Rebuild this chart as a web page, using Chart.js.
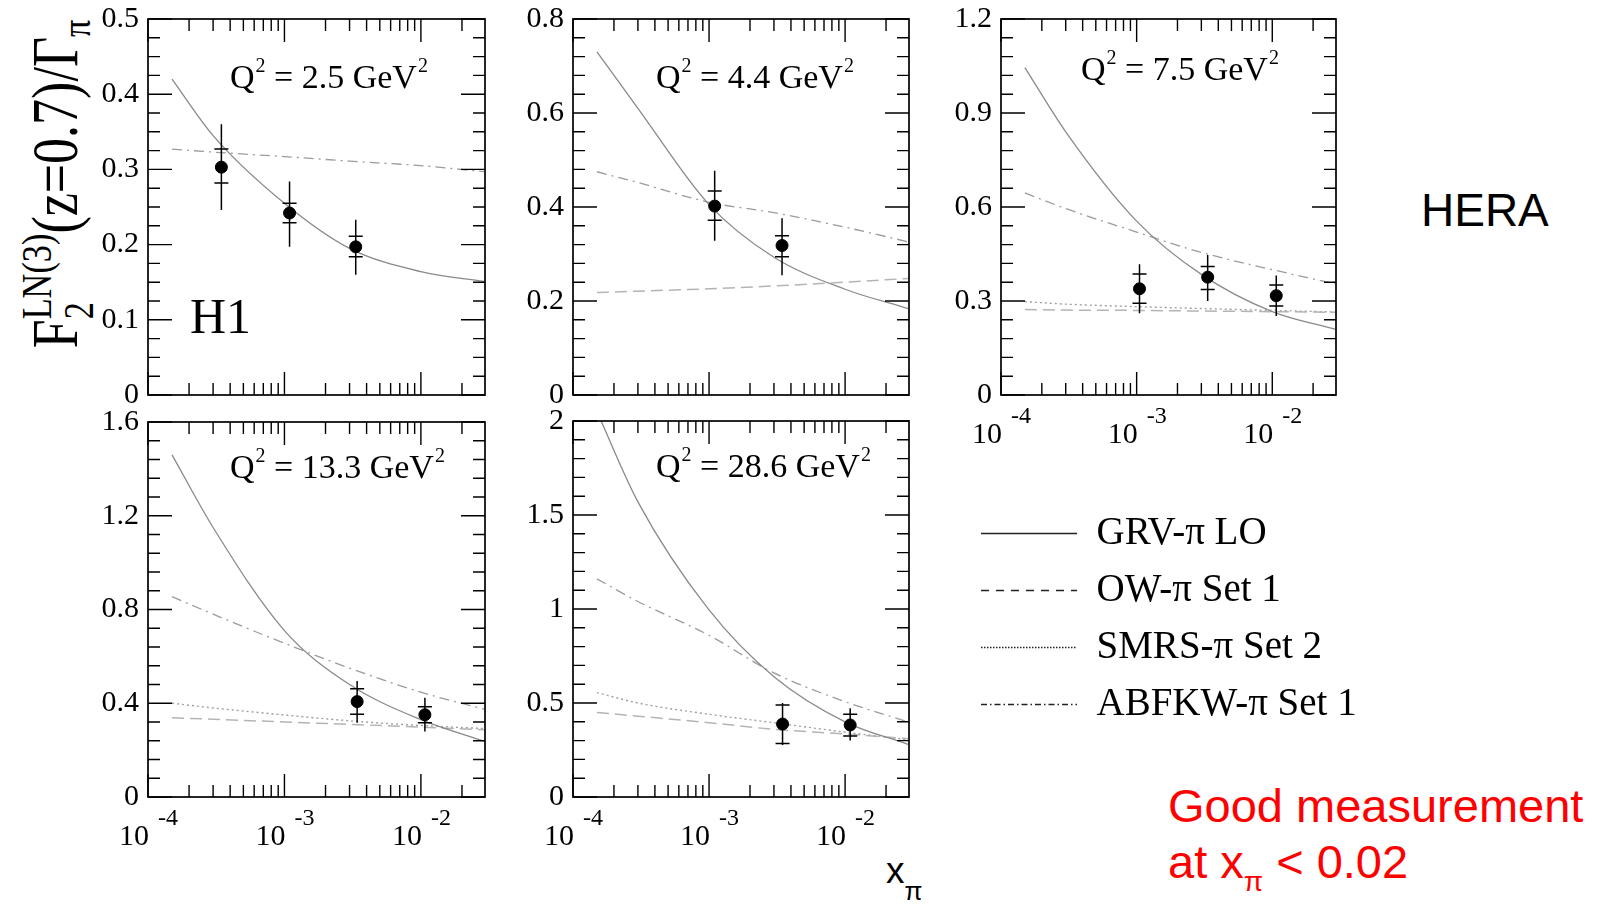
<!DOCTYPE html>
<html>
<head>
<meta charset="utf-8">
<script src="https://cdn.jsdelivr.net/npm/chart.js@4/dist/chart.umd.min.js"></script>
<style>
  body { margin: 0; background: #fff; width: 1608px; height: 904px; overflow: hidden; position: relative; }
  canvas { position: absolute; }
  .t { position: absolute; white-space: nowrap; color: #000; }
  #ytitle { left: 57px; top: 184px; font: 52px 'Liberation Serif'; line-height: 1;
            transform: translate(-50%, -50%) rotate(-90deg) scaleY(1.25); }
  #ytitle .ss { display: inline-block; font-size: 0.66em; line-height: 0.95; vertical-align: -0.35em; text-align: left; }
  #ytitle .pi { font-size: 0.66em; vertical-align: -0.3em; }
</style>
</head>
<body>

<div class="t" id="ytitle">F<span class="ss">LN(3)<br>2</span>(z=0.7)/Γ<span class="pi">π</span></div>
<div class="t" style="left:1421px;top:187px;font:46px 'Liberation Sans';line-height:46px">HERA</div>
<div class="t" style="left:886px;top:852px;font:37px 'Liberation Sans';line-height:37px">x<span style="font-size:26px;vertical-align:-17px;line-height:0">π</span></div>
<div class="t" style="left:1168px;top:778px;font:47px 'Liberation Sans';line-height:56px;color:#f00">Good measurement<br>at x<span style="font-size:28px;vertical-align:-13px;line-height:0">π</span> &lt; 0.02</div>

<script>
var curveX = [1.5e-4, 3e-4, 1e-3, 3e-3, 1e-2, 2.9e-2];

// model curves, one row per panel (null = not drawn in that panel)
var grvVals = [
  [0.42, 0.345, 0.255, 0.195, 0.164, 0.151],
  [0.73, 0.61, 0.405, 0.293, 0.225, 0.184],
  [1.045, 0.84, 0.555, 0.385, 0.266, 0.21],
  [1.46, 1.15, 0.71, 0.48, 0.33, 0.238],
  [2.05, 1.57, 0.995, 0.64, 0.40, 0.28]
];
var owVals = [
  null,
  [0.218, 0.221, 0.226, 0.232, 0.240, 0.248],
  [0.273, 0.271, 0.27, 0.268, 0.266, 0.264],
  [0.338, 0.332, 0.32, 0.31, 0.298, 0.287],
  [0.45, 0.43, 0.395, 0.36, 0.335, 0.31]
];
var smrsVals = [
  null,
  null,
  [0.298, 0.29, 0.282, 0.276, 0.27, 0.265],
  [0.40, 0.38, 0.35, 0.325, 0.305, 0.292],
  [0.555, 0.50, 0.44, 0.395, 0.345, 0.305]
];
var abfkwVals = [
  [0.327, 0.323, 0.317, 0.311, 0.305, 0.297],
  [0.475, 0.452, 0.41, 0.388, 0.357, 0.326],
  [0.645, 0.595, 0.52, 0.455, 0.40, 0.355],
  [0.855, 0.78, 0.656, 0.55, 0.447, 0.375],
  [1.16, 1.04, 0.86, 0.66, 0.507, 0.40]
];

// H1 data points with stat (inner ticks) and total (full bar) errors
var dataX = [[3.45e-4, 1.09e-3, 3.33e-3], [1.1e-3, 3.44e-3], [1.05e-3, 3.34e-3, 1.07e-2], [3.41e-3, 1.07e-2], [3.47e-3, 1.09e-2]];
var dataY = [[0.303, 0.242, 0.197], [0.402, 0.318], [0.339, 0.376, 0.317], [0.407, 0.351], [0.388, 0.383]];
var statLo = [[0.282, 0.229, 0.184], [0.372, 0.294], [0.293, 0.337, 0.284], [0.353, 0.317], [0.285, 0.324]];
var statHi = [[0.327, 0.255, 0.211], [0.434, 0.339], [0.386, 0.410, 0.351], [0.462, 0.385], [0.49, 0.44]];
var totLo = [[0.246, 0.197, 0.160], [0.328, 0.255], [0.261, 0.300, 0.252], [0.317, 0.279], [0.277, 0.30]];
var totHi = [[0.360, 0.284, 0.233], [0.477, 0.376], [0.417, 0.447, 0.381], [0.495, 0.424], [0.50, 0.472]];

var q2Labels = ['2.5', '4.4', '7.5', '13.3', '28.6'];
var yMax = [0.5, 0.8, 1.2, 1.6, 2];
var yTicks = [[0, 0.1, 0.2, 0.3, 0.4, 0.5], [0, 0.2, 0.4, 0.6, 0.8], [0, 0.3, 0.6, 0.9, 1.2], [0, 0.4, 0.8, 1.2, 1.6], [0, 0.5, 1, 1.5, 2]];
var yMinor = [0.025, 0.04, 0.06, 0.08, 0.1];
var xTickVals = [1e-4, 1e-3, 1e-2];
var xTickExp = ['-4', '-3', '-2'];
var legendNames = ['GRV-π LO', 'OW-π Set 1', 'SMRS-π Set 2', 'ABFKW-π Set 1'];

// layout: plot area [left, top, right, bottom] of every panel on the page
var panelBox = [[148, 19, 485, 395], [573, 19, 909, 395], [1001, 19, 1336, 395], [148, 422, 485, 797], [573, 421, 909, 797]];
var qDx = [82, 83, 80, 82, 83];
var qDy = [69, 69, 61, 56, 56];
var PAD = {l: 62, t: 14, r: 12, b: 62};
var X_MIN = 1e-4, X_MAX = 0.0295;
var SERIF = '"Liberation Serif", serif';

var curveDefs = [
  {vals: grvVals, color: '#8a8a8a', width: 1.3, dash: []},
  {vals: owVals, color: '#b4b4b4', width: 1.5, dash: [12, 6]},
  {vals: smrsVals, color: '#a0a0a0', width: 1.4, dash: [2, 3]},
  {vals: abfkwVals, color: '#9c9c9c', width: 1.3, dash: [10, 5, 2, 5]}
];
var legendDash = [[], [8, 7], [1.5, 1.5], [6, 3, 1.5, 3]];

function noScalePadding(s) {
  s.paddingTop = 0; s.paddingBottom = 0; s.paddingLeft = 0; s.paddingRight = 0;
}

function makePanel(i) {
  var b = panelBox[i];
  var cv = document.createElement('canvas');
  var w = b[2] - b[0] + PAD.l + PAD.r, h = b[3] - b[1] + PAD.t + PAD.b;
  cv.width = w; cv.height = h;
  cv.style.left = (b[0] - PAD.l) + 'px';
  cv.style.top = (b[1] - PAD.t) + 'px';
  document.body.appendChild(cv);

  var sets = [{
    data: dataX[i].map(function (x, k) { return {x: x, y: dataY[i][k]}; }),
    backgroundColor: '#000', borderColor: '#000', pointRadius: 6, pointHoverRadius: 6, showLine: false
  }];
  curveDefs.forEach(function (c) {
    var vals = c.vals[i];
    if (!vals) return;
    sets.push({
      data: curveX.map(function (x, k) { return {x: x, y: vals[k]}; }),
      showLine: true, borderColor: c.color, borderWidth: c.width, borderDash: c.dash,
      pointRadius: 0, cubicInterpolationMode: 'monotone', fill: false
    });
  });

  var deco = {
    id: 'deco' + i,
    afterDatasetsDraw: function (chart) {
      var ctx = chart.ctx, xs = chart.scales.x, ys = chart.scales.y;
      ctx.save();
      ctx.strokeStyle = '#000';
      ctx.lineWidth = 1.5;
      ctx.beginPath();
      dataX[i].forEach(function (x, k) {
        var px = xs.getPixelForValue(x);
        ctx.moveTo(px, ys.getPixelForValue(totLo[i][k]));
        ctx.lineTo(px, ys.getPixelForValue(totHi[i][k]));
        [statLo[i][k], statHi[i][k]].forEach(function (v) {
          var py = ys.getPixelForValue(v);
          ctx.moveTo(px - 7, py);
          ctx.lineTo(px + 7, py);
        });
      });
      ctx.stroke();
      ctx.restore();
    },
    afterDraw: function (chart) {
      var ctx = chart.ctx, a = chart.chartArea, xs = chart.scales.x, ys = chart.scales.y;
      ctx.save();
      ctx.strokeStyle = '#000';
      ctx.lineWidth = 1.7;
      ctx.strokeRect(a.left, a.top, a.right - a.left, a.bottom - a.top);

      // inward ticks on all four sides
      ctx.lineWidth = 1.4;
      ctx.beginPath();
      for (var n = -4; n <= -2; n++) {
        for (var m = 1; m <= 9; m++) {
          var v = m * Math.pow(10, n);
          if (v < X_MIN * 0.999 || v > X_MAX) continue;
          var px = xs.getPixelForValue(v), len = m === 1 ? 23 : 12;
          ctx.moveTo(px, a.bottom); ctx.lineTo(px, a.bottom - len);
          ctx.moveTo(px, a.top); ctx.lineTo(px, a.top + len);
        }
      }
      var step = yTicks[i][1];
      for (var k = 0; k * yMinor[i] <= yMax[i] + 1e-9; k++) {
        var yv = k * yMinor[i];
        var major = Math.abs(yv / step - Math.round(yv / step)) < 1e-6;
        var py = ys.getPixelForValue(yv), ylen = major ? 24 : 12;
        ctx.moveTo(a.left, py); ctx.lineTo(a.left + ylen, py);
        ctx.moveTo(a.right, py); ctx.lineTo(a.right - ylen, py);
      }
      ctx.stroke();

      // Q^2 label
      ctx.fillStyle = '#000';
      ctx.textBaseline = 'alphabetic';
      ctx.textAlign = 'left';
      var x0 = a.left + qDx[i], y0 = a.top + qDy[i];
      ctx.font = '34px ' + SERIF;
      ctx.fillText('Q', x0, y0);
      x0 += ctx.measureText('Q').width + 1;
      ctx.font = '20px ' + SERIF;
      ctx.fillText('2', x0, y0 - 16);
      x0 += ctx.measureText('2').width;
      ctx.font = '34px ' + SERIF;
      var s = ' = ' + q2Labels[i] + ' GeV';
      ctx.fillText(s, x0, y0);
      x0 += ctx.measureText(s).width + 1;
      ctx.font = '20px ' + SERIF;
      ctx.fillText('2', x0, y0 - 16);

      if (i === 0) {
        ctx.font = '50px ' + SERIF;
        ctx.fillText('H1', a.left + 42, a.top + 314);
      }

      // x tick labels 10^n (only on the lower panels)
      if (i >= 2) {
        xTickVals.forEach(function (v, k) {
          var px = xs.getPixelForValue(v);
          ctx.font = '30px ' + SERIF;
          ctx.textAlign = 'right';
          ctx.fillText('10', px + 1, a.bottom + 48);
          ctx.font = '24px ' + SERIF;
          ctx.textAlign = 'left';
          ctx.fillText(xTickExp[k], px + 10, a.bottom + 28);
        });
      }
      ctx.restore();
    }
  };

  new Chart(cv, {
    type: 'scatter',
    data: {datasets: sets},
    options: {
      responsive: false,
      animation: false,
      layout: {padding: {left: 0, top: PAD.t, right: PAD.r, bottom: 0}},
      plugins: {legend: {display: false}, tooltip: {enabled: false}},
      scales: {
        x: {
          type: 'logarithmic', min: X_MIN, max: X_MAX,
          ticks: {display: false},
          grid: {display: false, drawTicks: false},
          border: {display: false},
          afterFit: function (s) { s.height = PAD.b; noScalePadding(s); }
        },
        y: {
          min: 0, max: yMax[i],
          afterBuildTicks: function (s) { s.ticks = yTicks[i].map(function (v) { return {value: v}; }); },
          ticks: {
            color: '#000', padding: 9,
            font: {family: 'Liberation Serif', size: 30},
            callback: function (v) { return String(v); }
          },
          grid: {display: false, drawTicks: false},
          border: {display: false},
          afterFit: function (s) { s.width = PAD.l; noScalePadding(s); }
        }
      }
    },
    plugins: [deco]
  });
}

for (var p = 0; p < panelBox.length; p++) makePanel(p);

// legend block
var lc = document.createElement('canvas');
lc.width = 420; lc.height = 300;
lc.style.left = '963px'; lc.style.top = '496px';
document.body.appendChild(lc);
new Chart(lc, {
  type: 'line',
  data: {
    labels: [],
    datasets: legendNames.map(function (n, k) {
      return {label: n, data: [], borderColor: '#222', borderWidth: 1.6, borderDash: legendDash[k], pointStyle: 'line'};
    })
  },
  options: {
    responsive: false,
    animation: false,
    scales: {x: {display: false}, y: {display: false}},
    plugins: {
      tooltip: {enabled: false},
      legend: {
        position: 'top', align: 'start', maxHeight: 300,
        labels: {
          usePointStyle: true, pointStyle: 'line', pointStyleWidth: 96, padding: 18,
          color: '#000', font: {family: 'Liberation Serif', size: 39},
          generateLabels: function (chart) {
            var items = Chart.defaults.plugins.legend.labels.generateLabels(chart);
            items.forEach(function (it, k) {
              it.lineDash = legendDash[k];
              it.strokeStyle = '#222';
              it.lineWidth = 1.6;
            });
            return items;
          }
        }
      }
    }
  }
});
</script>
</body>
</html>
